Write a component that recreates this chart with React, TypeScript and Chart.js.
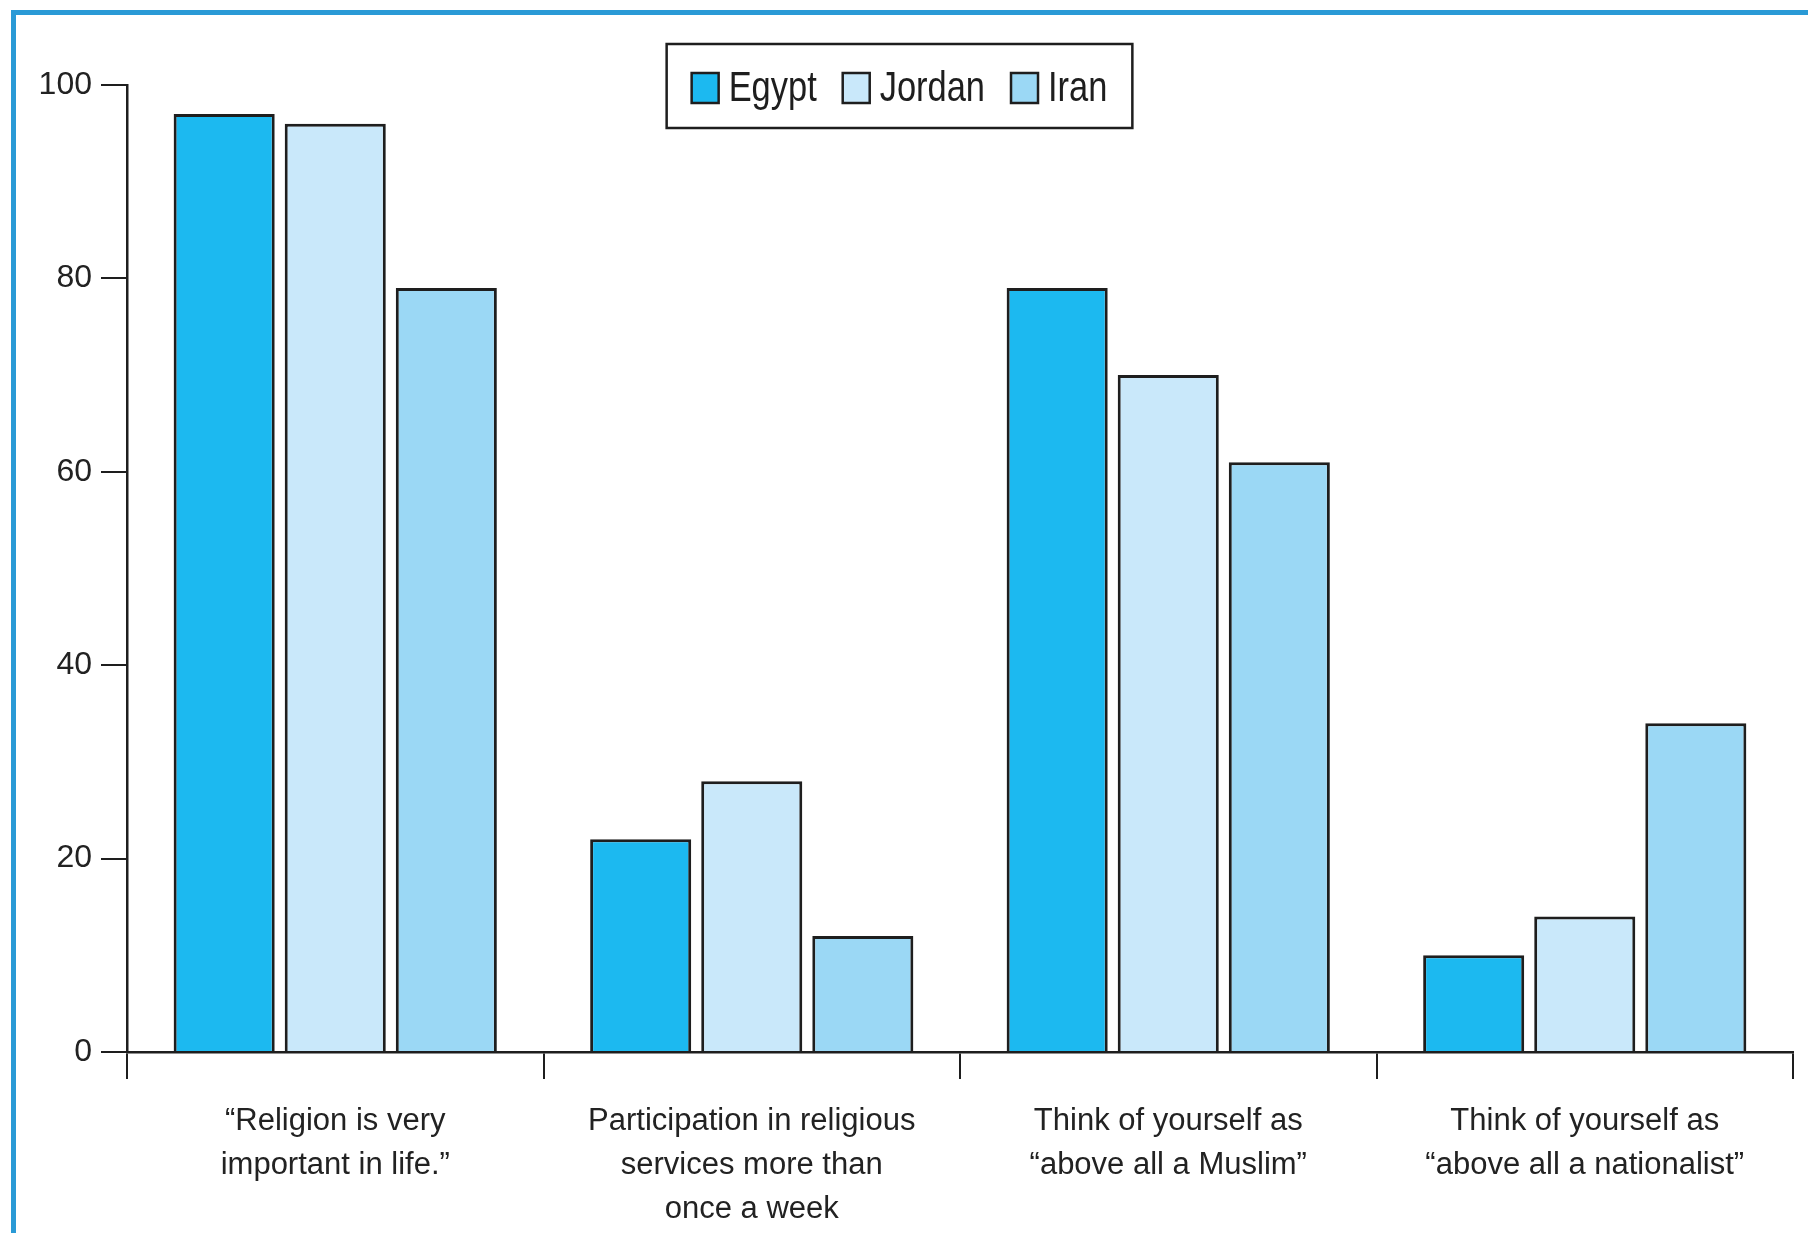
import React, { useEffect, useRef } from "react";
import { Chart, registerables } from "chart.js";

Chart.register(...registerables);

// ---- data ----
const categories: string[][] = [
  ["\u201CReligion is very", "important in life.\u201D"],
  ["Participation in religious", "services more than", "once a week"],
  ["Think of yourself as", "\u201Cabove all a Muslim\u201D"],
  ["Think of yourself as", "\u201Cabove all a nationalist\u201D"],
];
const seriesNames = ["Egypt", "Jordan", "Iran"];
const egyptValues = [97, 22, 79, 10];
const jordanValues = [96, 28, 70, 14];
const iranValues = [79, 12, 61, 34];
const yMin = 0;
const yMax = 100;
const yStep = 20;

const seriesColors = ["#1cb9f0", "#c9e8fa", "#9bd8f5"];
const INK = "#1e1e1e";

const boxLegendPlugin = {
  id: "boxLegend",
  afterDraw(chart: any) {
    const ctx = chart.ctx as CanvasRenderingContext2D;
    ctx.save();
    ctx.font = '42px "Liberation Sans", Arial, sans-serif';
    const squeeze = 0.82;
    const sw = 27, sh = 30, gapText = 10, gapItem = 26, padX = 25;
    const items = chart.data.datasets.map((ds: any) => ({
      label: ds.label as string,
      color: ds.backgroundColor as string,
      w: ctx.measureText(ds.label).width * squeeze,
    }));
    const total =
      items.reduce((s: number, it: any) => s + sw + gapText + it.w, 0) +
      gapItem * (items.length - 1) +
      2 * padX;
    const cx = 899.5;
    const top = 44;
    const h = 84;
    let x = cx - total / 2;
    ctx.lineWidth = 2.5;
    ctx.strokeStyle = INK;
    ctx.fillStyle = "#ffffff";
    ctx.fillRect(x, top, total, h);
    ctx.strokeRect(x, top, total, h);
    x += padX;
    for (const it of items) {
      ctx.fillStyle = it.color;
      ctx.fillRect(x, 73, sw, sh);
      ctx.lineWidth = 2.5;
      ctx.strokeRect(x, 73, sw, sh);
      ctx.fillStyle = INK;
      ctx.textBaseline = "alphabetic";
      ctx.textAlign = "left";
      ctx.save();
      ctx.translate(x + sw + gapText, 101);
      ctx.scale(squeeze, 1);
      ctx.fillText(it.label, 0, 0);
      ctx.restore();
      x += sw + gapText + it.w + gapItem;
    }
    ctx.restore();
  },
};

export default function App() {
  const canvasRef = useRef<HTMLCanvasElement | null>(null);

  useEffect(() => {
    if (!canvasRef.current) return;
    const valueSets = [egyptValues, jordanValues, iranValues];
    const chart = new Chart(canvasRef.current, {
      type: "bar",
      data: {
        labels: categories,
        datasets: seriesNames.map((name, i) => ({
          label: name,
          data: valueSets[i],
          backgroundColor: seriesColors[i],
          borderColor: INK,
          borderWidth: 3,
          categoryPercentage: 0.8,
          barPercentage: 0.91,
        })),
      },
      options: {
        responsive: false,
        animation: false,
        layout: { padding: { left: 0, top: 85, right: 15, bottom: 0 } },
        plugins: {
          legend: { display: false },
          tooltip: { enabled: false },
        },
        scales: {
          x: {
            afterFit: (scale: any) => {
              scale.height = 181;
            },
            grid: {
              offset: true,
              drawOnChartArea: false,
              drawTicks: true,
              tickLength: 27,
              color: INK,
              lineWidth: 2,
            },
            border: { display: true, color: INK, width: 2.5 },
            ticks: {
              autoSkip: false,
              maxRotation: 0,
              minRotation: 0,
              padding: 20,
              color: "#222",
              font: { family: '"Liberation Sans", Arial, sans-serif', size: 31, lineHeight: 1.42 },
            },
          },
          y: {
            min: yMin,
            max: yMax,
            afterFit: (scale: any) => {
              scale.width = 127;
            },
            grid: {
              drawOnChartArea: false,
              drawTicks: true,
              tickLength: 26,
              color: INK,
              lineWidth: 2,
            },
            border: { display: true, color: INK, width: 2.5 },
            ticks: {
              stepSize: yStep,
              padding: 9,
              color: "#222",
              font: { family: '"Liberation Sans", Arial, sans-serif', size: 32 },
            },
          },
        },
      },
      plugins: [boxLegendPlugin],
    });
    return () => chart.destroy();
  }, []);

  return (
    <div
      style={{
        position: "fixed",
        left: 0,
        top: 0,
        width: 1808,
        height: 1233,
        overflow: "hidden",
        background: "#ffffff",
      }}
    >
      <div
        style={{
          position: "absolute",
          left: 11,
          top: 10,
          width: 2400,
          height: 2400,
          border: "5px solid #2a9ad6",
          boxSizing: "border-box",
        }}
      />
      <canvas
        ref={canvasRef}
        width={1808}
        height={1233}
        style={{ position: "absolute", left: 0, top: 0, width: 1808, height: 1233 }}
      />
    </div>
  );
}
